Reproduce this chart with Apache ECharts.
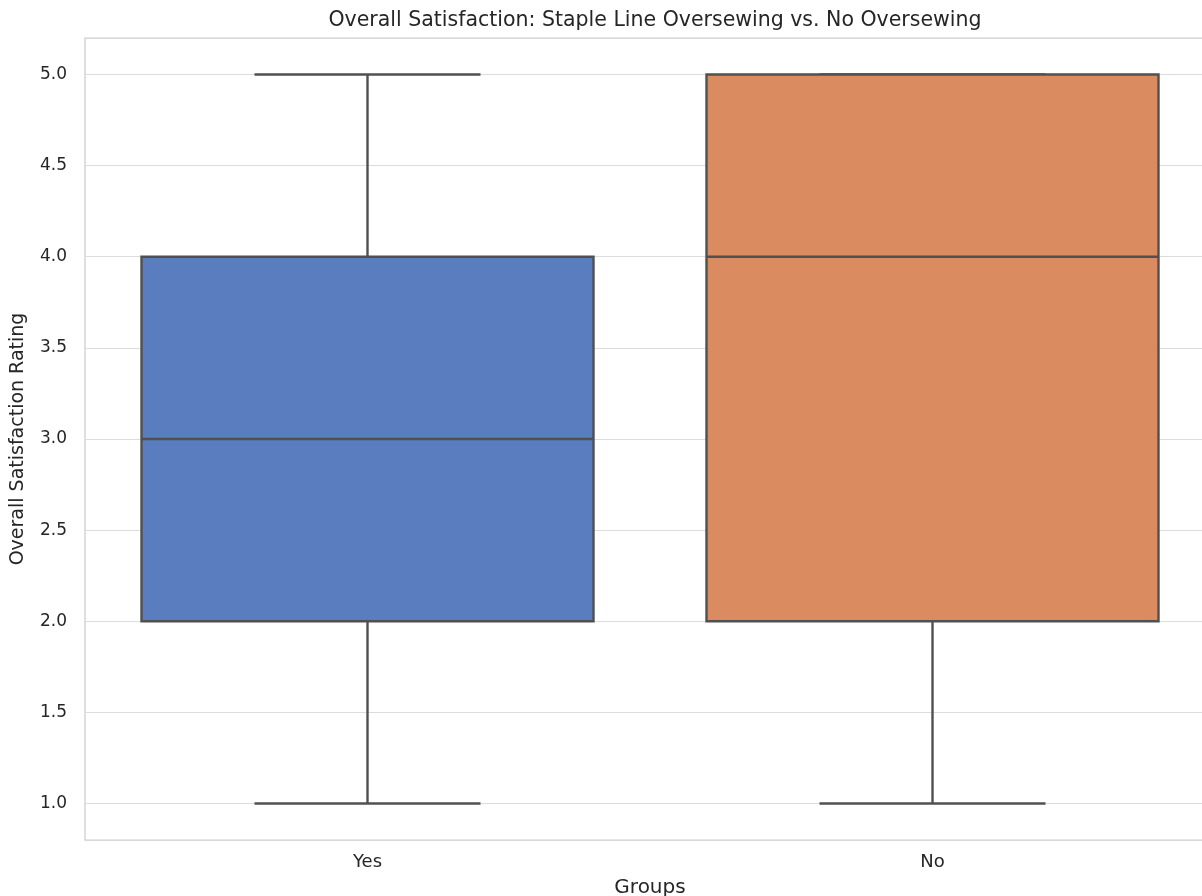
<!DOCTYPE html>
<html>
<head>
<meta charset="utf-8">
<script src="https://cdn.jsdelivr.net/npm/echarts@6/dist/echarts.min.js"></script>
<style>
  html, body { margin: 0; padding: 0; background: #fff; }
  #chart { width: 1202px; height: 896px; }
</style>
</head>
<body>
<div id="chart"></div>
<script>
// box stats per group: [min, q1, median, q3, max]
const groups = ['Yes', 'No'];
const yesStats = [1, 2, 3, 4, 5];
const noStats = [1, 2, 4, 5, 5];
const yTicks = [1.0, 1.5, 2.0, 2.5, 3.0, 3.5, 4.0, 4.5, 5.0];
const boxColors = ['#597dbf', '#da8b5f'];

const lineColor = '#505050';
const textColor = '#262626';
const font = 'DejaVu Sans';

const boxData = [yesStats, noStats].map((s, i) => [i].concat(s));

function renderBox(params, api) {
  const idx = api.value(0);
  const band = api.size([1, 0])[0];
  const boxW = band * 0.8;
  const capW = boxW / 2;
  const cx = api.coord([idx, 0])[0];
  const yMin = api.coord([idx, api.value(1)])[1];
  const yQ1 = api.coord([idx, api.value(2)])[1];
  const yMed = api.coord([idx, api.value(3)])[1];
  const yQ3 = api.coord([idx, api.value(4)])[1];
  const yMax = api.coord([idx, api.value(5)])[1];
  const ln = { stroke: lineColor, lineWidth: 2.4 };
  const children = [
    { type: 'line', shape: { x1: cx, y1: yQ3, x2: cx, y2: yMax }, style: ln },
    { type: 'line', shape: { x1: cx, y1: yQ1, x2: cx, y2: yMin }, style: ln },
    { type: 'line', shape: { x1: cx - capW / 2, y1: yMax, x2: cx + capW / 2, y2: yMax }, style: ln },
    { type: 'line', shape: { x1: cx - capW / 2, y1: yMin, x2: cx + capW / 2, y2: yMin }, style: ln },
    {
      type: 'rect',
      shape: { x: cx - boxW / 2, y: yQ3, width: boxW, height: yQ1 - yQ3 },
      style: { fill: boxColors[idx], stroke: lineColor, lineWidth: 2.4 }
    },
    { type: 'line', shape: { x1: cx - boxW / 2, y1: yMed, x2: cx + boxW / 2, y2: yMed }, style: ln }
  ];
  return { type: 'group', children: children };
}

const chart = echarts.init(document.getElementById('chart'), null, { renderer: 'canvas' });
chart.setOption({
  animation: false,
  backgroundColor: '#fff',
  textStyle: { fontFamily: font },
  title: {
    text: 'Overall Satisfaction: Staple Line Oversewing vs. No Oversewing',
    left: 650,
    textAlign: 'center',
    top: 5,
    textStyle: { fontFamily: font, fontSize: 20.5, fontWeight: 'normal', color: textColor }
  },
  grid: {
    left: 85, top: 38, width: 1130, bottom: 56,
    outerBoundsMode: 'none',
    containLabel: false,
    show: true, borderColor: '#cccccc', borderWidth: 1.25, backgroundColor: 'transparent'
  },
  xAxis: {
    type: 'category',
    data: groups,
    name: 'Groups',
    nameLocation: 'middle',
    nameGap: 38,
    nameTextStyle: { fontFamily: font, fontSize: 20, color: textColor },
    axisLine: { show: false },
    axisTick: { show: false },
    axisLabel: { fontFamily: font, fontSize: 18, color: textColor, margin: 13 },
    splitLine: { show: false }
  },
  yAxis: {
    type: 'value',
    min: 0.8,
    max: 5.2,
    name: 'Overall Satisfaction Rating',
    nameLocation: 'middle',
    nameGap: 57,
    nameTextStyle: { fontFamily: font, fontSize: 19, color: textColor },
    axisLine: { show: false },
    axisTick: { show: false, customValues: yTicks },
    axisLabel: {
      fontFamily: font, fontSize: 17, color: textColor, margin: 18,
      customValues: yTicks,
      formatter: function (v) { return v.toFixed(1); }
    },
    splitLine: { show: true, lineStyle: { color: '#dcdcdc', width: 1.2 } }
  },
  series: [{
    type: 'custom',
    renderItem: renderBox,
    encode: { x: 0, y: [1, 2, 3, 4, 5] },
    data: boxData,
    z: 3
  }]
});
</script>
</body>
</html>
